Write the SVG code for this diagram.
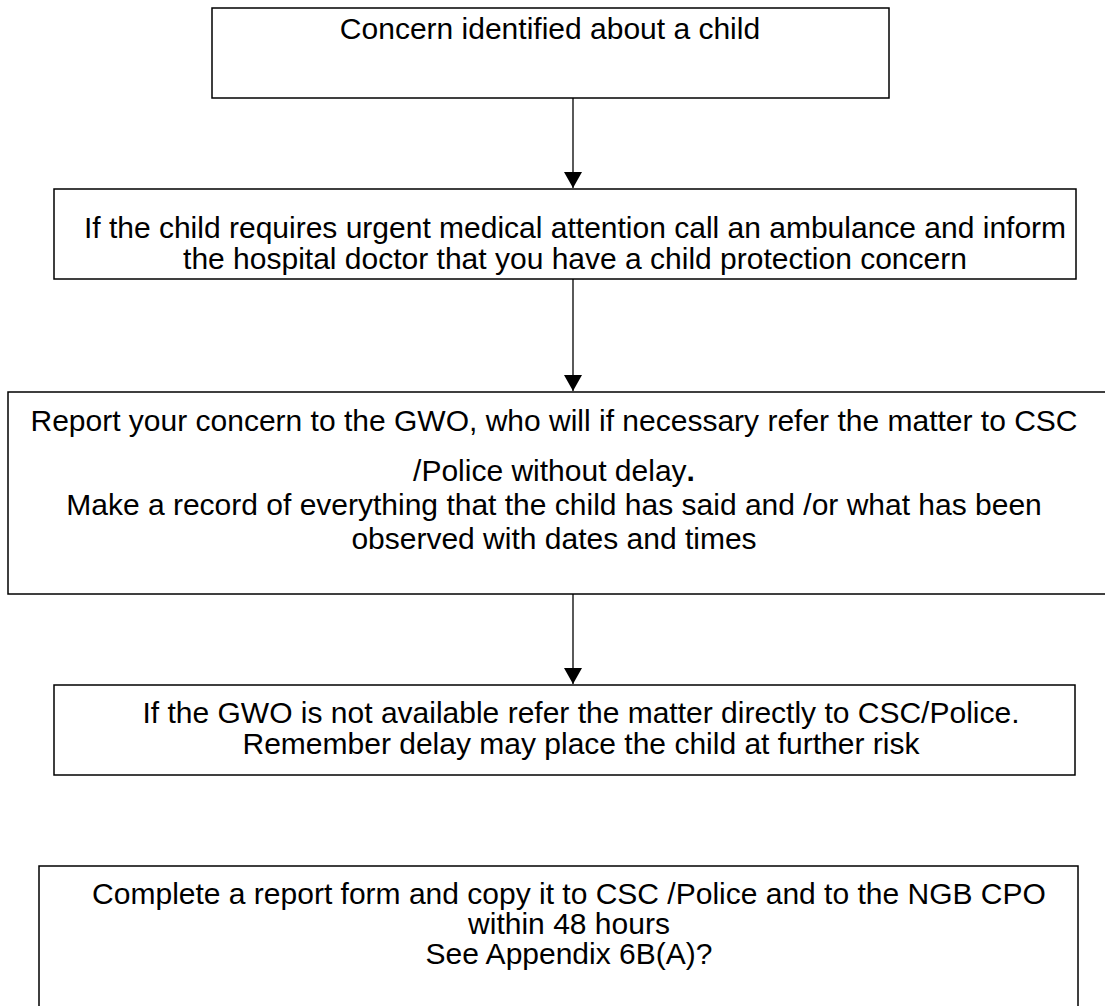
<svg xmlns="http://www.w3.org/2000/svg" width="1105" height="1006" viewBox="0 0 1105 1006">
<defs>
<style>
.box{fill:#fff;stroke:#000;stroke-width:1.5}
.t{font-family:"Liberation Sans",Arial,sans-serif;font-size:30px;fill:#000;text-anchor:middle}
.c{stroke:#000;stroke-width:1.3;fill:none}
</style>
<marker id="ah" viewBox="0 0 16 18" refX="16" refY="9" markerWidth="16" markerHeight="18" markerUnits="userSpaceOnUse" orient="auto">
<path d="M0,0 L16,9 L0,18 z" fill="#000"/>
</marker>
</defs>
<rect width="1105" height="1006" fill="#fff"/>
<g id="connectors">
<line class="c" x1="573" y1="98" x2="573" y2="188" marker-end="url(#ah)"/>
<line class="c" x1="573" y1="279" x2="573" y2="391" marker-end="url(#ah)"/>
<line class="c" x1="573" y1="594" x2="573" y2="684" marker-end="url(#ah)"/>
</g>
<g id="n1">
<rect class="box" x="212" y="8" width="677" height="90"/>
<text class="t" x="550" y="39">Concern identified about a child</text>
</g>
<g id="n2">
<rect class="box" x="54" y="189" width="1022" height="90"/>
<text class="t" x="575" y="238">If the child requires urgent medical attention call an ambulance and inform</text>
<text class="t" x="575" y="269">the hospital doctor that you have a child protection concern</text>
</g>
<g id="n3">
<rect class="box" x="8" y="392" width="1110" height="202"/>
<text class="t" x="554" y="431">Report your concern to the GWO, who will if necessary refer the matter to CSC</text>
<text class="t" x="554" y="481">/Police without delay<tspan font-weight="bold">.</tspan></text>
<text class="t" x="554" y="515">Make a record of everything that the child has said and /or what has been</text>
<text class="t" x="554" y="549">observed with dates and times</text>
</g>
<g id="n4">
<rect class="box" x="54" y="685" width="1021" height="90"/>
<text class="t" x="581" y="723">If the GWO is not available refer the matter directly to CSC/Police.</text>
<text class="t" x="581" y="754">Remember delay may place the child at further risk</text>
</g>
<g id="n5">
<rect class="box" x="39" y="866" width="1039" height="160"/>
<text class="t" x="569" y="904">Complete a report form and copy it to CSC /Police and to the NGB CPO</text>
<text class="t" x="569" y="934">within 48 hours</text>
<text class="t" x="569" y="964">See Appendix 6B(A)?</text>
</g>
</svg>
